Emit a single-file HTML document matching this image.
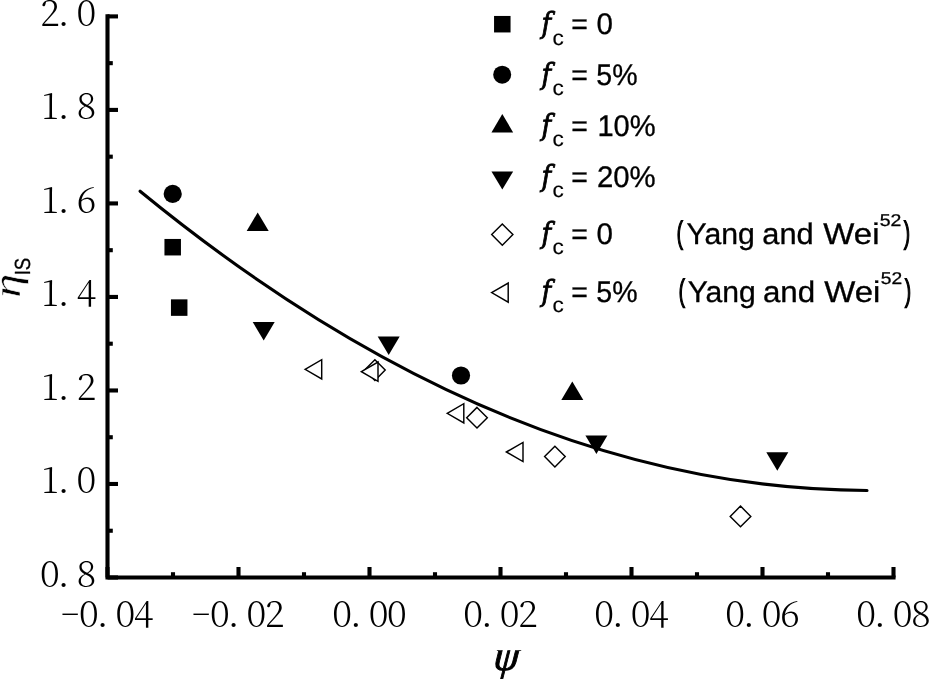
<!DOCTYPE html>
<html lang="en"><head><meta charset="utf-8"><title>Chart</title>
<style>html,body{margin:0;padding:0;background:#fff}svg{display:block}.tk{font-family:"Noto Serif CJK SC","Liberation Serif",serif;font-weight:300;font-size:36px;fill:#000}.lg{font-family:"Liberation Sans",sans-serif;font-size:28.5px;fill:#000;stroke:#000;stroke-width:0.3px}#legend text,#titles text{text-rendering:geometricPrecision}.bi{font-family:"Liberation Serif",serif;font-style:italic;fill:#000;stroke:#000;stroke-width:0.5px;stroke-linejoin:round}.it{font-family:"DejaVu Serif","Liberation Serif",serif;font-style:italic;fill:#000}</style></head><body>
<svg width="929" height="679" viewBox="0 0 929 679">
<rect width="929" height="679" fill="#fff"/>
<g id="axes" stroke="#000" stroke-width="4.1" fill="none" stroke-linecap="butt">
<path d="M107.5 14.349999999999998 V577.5 H895.55" stroke-linejoin="miter"/>
<path d="M107.5 577.50 H118"/>
<path d="M107.5 530.74 H112.8"/>
<path d="M107.5 483.98 H118"/>
<path d="M107.5 437.23 H112.8"/>
<path d="M107.5 390.47 H118"/>
<path d="M107.5 343.71 H112.8"/>
<path d="M107.5 296.95 H118"/>
<path d="M107.5 250.19 H112.8"/>
<path d="M107.5 203.43 H118"/>
<path d="M107.5 156.68 H112.8"/>
<path d="M107.5 109.92 H118"/>
<path d="M107.5 63.16 H112.8"/>
<path d="M107.5 16.40 H118"/>
<path d="M107.50 577.5 V567"/>
<path d="M173.00 577.5 V572.2"/>
<path d="M238.50 577.5 V567"/>
<path d="M304.00 577.5 V572.2"/>
<path d="M369.50 577.5 V567"/>
<path d="M435.00 577.5 V572.2"/>
<path d="M500.50 577.5 V567"/>
<path d="M566.00 577.5 V572.2"/>
<path d="M631.50 577.5 V567"/>
<path d="M697.00 577.5 V572.2"/>
<path d="M762.50 577.5 V567"/>
<path d="M828.00 577.5 V572.2"/>
<path d="M893.50 577.5 V567"/>
</g>
<g id="ticks">
<text class="tk" text-anchor="middle" x="49.90 63.60 86.30" y="587.00">0.8</text>
<text class="tk" text-anchor="middle" x="49.90 63.60 86.30" y="493.48">1.0</text>
<text class="tk" text-anchor="middle" x="49.90 63.60 86.30" y="399.97">1.2</text>
<text class="tk" text-anchor="middle" x="49.90 63.60 86.30" y="306.45">1.4</text>
<text class="tk" text-anchor="middle" x="49.90 63.60 86.30" y="212.93">1.6</text>
<text class="tk" text-anchor="middle" x="49.90 63.60 86.30" y="119.42">1.8</text>
<text class="tk" text-anchor="middle" x="49.90 63.60 86.30" y="25.90">2.0</text>
<text class="tk" text-anchor="middle" transform="translate(70.20 627.20) scale(0.86 1)">−</text>
<text class="tk" text-anchor="middle" x="89.00 102.70 125.40 143.60" y="627.20">0.04</text>
<text class="tk" text-anchor="middle" transform="translate(201.20 627.20) scale(0.86 1)">−</text>
<text class="tk" text-anchor="middle" x="220.00 233.70 256.40 274.60" y="627.20">0.02</text>
<text class="tk" text-anchor="middle" x="342.20 355.90 378.60 396.80" y="627.20">0.00</text>
<text class="tk" text-anchor="middle" x="473.20 486.90 509.60 527.80" y="627.20">0.02</text>
<text class="tk" text-anchor="middle" x="604.20 617.90 640.60 658.80" y="627.20">0.04</text>
<text class="tk" text-anchor="middle" x="735.20 748.90 771.60 789.80" y="627.20">0.06</text>
<text class="tk" text-anchor="middle" x="866.20 879.90 902.60 920.80" y="627.20">0.08</text>
</g>
<path id="curve" d="M140.1 191.25 Q503.55 489.12 867.0 490.46" stroke="#000" stroke-width="3.1" fill="none" stroke-linecap="round"/>
<g id="syms">
<rect x="164.45" y="238.95" width="16.5" height="16.5" fill="#000"/>
<rect x="170.95" y="299.35" width="16.5" height="16.5" fill="#000"/>
<circle cx="172.7" cy="193.9" r="9.1" fill="#000"/>
<circle cx="461" cy="375.5" r="9.1" fill="#000"/>
<path d="M257.7 212.4 L268.7 231.0 H246.7Z" fill="#000"/>
<path d="M572.3 381.5 L583.3 400.1 H561.3Z" fill="#000"/>
<path d="M252.7 322 H274.7 L263.7 340.6Z" fill="#000"/>
<path d="M377.7 336.5 H399.7 L388.7 355.1Z" fill="#000"/>
<path d="M585.4 435.4 H607.4 L596.4 454.0Z" fill="#000"/>
<path d="M766.3 452.2 H788.3 L777.3 470.8Z" fill="#000"/>
<path d="M374.9 359.8 L385.2 370.1 L374.9 380.40000000000003 L364.59999999999997 370.1Z" fill="#fff" stroke="#000" stroke-width="1.45" stroke-linejoin="miter"/>
<path d="M477 407.4 L487.3 417.7 L477 428.0 L466.7 417.7Z" fill="#fff" stroke="#000" stroke-width="1.45" stroke-linejoin="miter"/>
<path d="M554.9 446.3 L565.1999999999999 456.6 L554.9 466.90000000000003 L544.6 456.6Z" fill="#fff" stroke="#000" stroke-width="1.45" stroke-linejoin="miter"/>
<path d="M740.5 506.09999999999997 L750.8 516.4 L740.5 526.6999999999999 L730.2 516.4Z" fill="#fff" stroke="#000" stroke-width="1.45" stroke-linejoin="miter"/>
<path d="M305.09999999999997 369.3 L321.7 359.7 V378.90000000000003Z" fill="#fff" stroke="#000" stroke-width="1.45" stroke-linejoin="miter"/>
<path d="M361.4 371.7 L378.0 362.09999999999997 V381.3Z" fill="#fff" stroke="#000" stroke-width="1.45" stroke-linejoin="miter"/>
<path d="M447.2 413.3 L463.8 403.7 V422.90000000000003Z" fill="#fff" stroke="#000" stroke-width="1.45" stroke-linejoin="miter"/>
<path d="M506.4 452 L523.0 442.4 V461.6Z" fill="#fff" stroke="#000" stroke-width="1.45" stroke-linejoin="miter"/>
<rect x="494.05" y="15.95" width="16.5" height="16.5" fill="#000"/>
<circle cx="502.2" cy="74.7" r="9.0" fill="#000"/>
<path d="M502.3 113.9 L513.15 132.5 H491.45Z" fill="#000"/>
<path d="M491.45 171.4 H513.15 L502.3 189.6Z" fill="#000"/>
<path d="M502.3 224.0 L512.9 234.6 L502.3 245.2 L491.7 234.6Z" fill="#fff" stroke="#000" stroke-width="1.45" stroke-linejoin="miter"/>
<path d="M491.59999999999997 292.6 L508.2 283.0 V302.20000000000005Z" fill="#fff" stroke="#000" stroke-width="1.45" stroke-linejoin="miter"/>
</g>
<g id="legend">
<text id="f0" class="it" style="font-size:30px;stroke:#000;stroke-width:0.9px" transform="matrix(0.8738 0 0.0000 0.9728 541.42 33.00)">f</text>
<text id="c0" class="lg" style="font-size:24px;stroke:#000;stroke-width:0.2px" transform="matrix(0.9371 0 0.0000 0.8904 552.50 45.00)">c</text>
<text id="e0" class="lg" transform="matrix(0.9982 0 0.0000 1.0450 571.29 34.00)">=</text>
<text id="v0" class="lg" transform="matrix(1.0371 0 0.0000 1.0450 596.54 34.00)">0</text>
<text id="f1" class="it" style="font-size:30px;stroke:#000;stroke-width:0.9px" transform="matrix(0.8738 0 0.0000 0.9728 541.42 84.00)">f</text>
<text id="c1" class="lg" style="font-size:24px;stroke:#000;stroke-width:0.2px" transform="matrix(0.9371 0 0.0000 0.8904 552.50 95.00)">c</text>
<text id="e1" class="lg" transform="matrix(0.9982 0 0.0000 1.0450 571.29 85.00)">=</text>
<text id="v1" class="lg" transform="matrix(1.0013 0 0.0000 1.0450 596.30 85.00)">5%</text>
<text id="f2" class="it" style="font-size:30px;stroke:#000;stroke-width:0.9px" transform="matrix(0.8738 0 0.0000 0.9728 541.42 135.00)">f</text>
<text id="c2" class="lg" style="font-size:24px;stroke:#000;stroke-width:0.2px" transform="matrix(0.9371 0 0.0000 0.8904 552.50 146.00)">c</text>
<text id="e2" class="lg" transform="matrix(0.9982 0 0.0000 1.0450 571.29 136.00)">=</text>
<text id="v2" class="lg" transform="matrix(1.0218 0 0.0000 1.0450 597.42 136.00)">10%</text>
<text id="f3" class="it" style="font-size:30px;stroke:#000;stroke-width:0.9px" transform="matrix(0.8738 0 0.0000 0.9728 541.42 186.00)">f</text>
<text id="c3" class="lg" style="font-size:24px;stroke:#000;stroke-width:0.2px" transform="matrix(0.9371 0 0.0000 0.8904 552.50 197.00)">c</text>
<text id="e3" class="lg" transform="matrix(0.9982 0 0.0000 1.0450 571.29 187.00)">=</text>
<text id="v3" class="lg" transform="matrix(1.0307 0 0.0000 1.0450 596.93 187.00)">20%</text>
<text id="f4" class="it" style="font-size:30px;stroke:#000;stroke-width:0.9px" transform="matrix(0.8738 0 0.0000 0.9728 541.42 243.00)">f</text>
<text id="c4" class="lg" style="font-size:24px;stroke:#000;stroke-width:0.2px" transform="matrix(0.9371 0 0.0000 0.8904 552.50 254.00)">c</text>
<text id="e4" class="lg" transform="matrix(0.9982 0 0.0000 1.0450 571.29 244.00)">=</text>
<text id="v4" class="lg" transform="matrix(1.0371 0 0.0000 1.0450 596.54 244.00)">0</text>
<text id="p4" class="lg" style="stroke-width:1.5px" transform="matrix(0.6324 0 0.0000 1.0775 676.81 243.00)">(</text>
<text id="y4" class="lg" transform="matrix(1.0619 0 0.0000 1.0450 686.50 244.00)">Yang</text>
<text id="a4" class="lg" transform="matrix(1.0820 0 0.0000 1.0450 762.25 244.00)">and</text>
<text id="w4" class="lg" transform="matrix(1.1556 0 0.0000 1.0450 823.34 244.00)">Wei</text>
<text id="s4" class="lg" style="font-size:17px" transform="matrix(1.1444 0 0.0000 1.0000 879.79 226.00)">52</text>
<text id="q4" class="lg" style="stroke-width:1.5px" transform="matrix(0.6296 0 0.0000 1.0776 904.10 243.00)">)</text>
<text id="f5" class="it" style="font-size:30px;stroke:#000;stroke-width:0.9px" transform="matrix(0.8738 0 0.0000 0.9728 541.42 301.00)">f</text>
<text id="c5" class="lg" style="font-size:24px;stroke:#000;stroke-width:0.2px" transform="matrix(0.9371 0 0.0000 0.8904 552.50 312.00)">c</text>
<text id="e5" class="lg" transform="matrix(0.9982 0 0.0000 1.0450 571.29 302.00)">=</text>
<text id="v5" class="lg" transform="matrix(1.0013 0 0.0000 1.0450 596.30 302.00)">5%</text>
<text id="p5" class="lg" style="stroke-width:1.5px" transform="matrix(0.6333 0 0.0000 1.0775 678.67 301.00)">(</text>
<text id="y5" class="lg" transform="matrix(1.0572 0 0.0000 1.0450 687.70 302.00)">Yang</text>
<text id="a5" class="lg" transform="matrix(1.0996 0 0.0000 1.0450 762.88 302.00)">and</text>
<text id="w5" class="lg" transform="matrix(1.1548 0 0.0000 1.0450 824.29 302.00)">Wei</text>
<text id="s5" class="lg" style="font-size:17px" transform="matrix(1.1306 0 0.0000 1.0000 880.70 284.00)">52</text>
<text id="q5" class="lg" style="stroke-width:1.5px" transform="matrix(0.6337 0 0.0000 1.0776 904.89 301.00)">)</text>
</g>
<clipPath id="cpsi"><rect x="480" y="650.3" width="60" height="40"/><rect x="0" y="240" width="45" height="80"/></clipPath>
<g id="titles" clip-path="url(#cpsi)">
<text id="psi" class="bi" style="font-size:45px;stroke-width:0.95px" transform="matrix(0.9254 0 -0.0900 1.0000 492.67 670.00)">ψ</text>
<text id="eta" class="bi" style="font-size:45px;stroke:#fff;stroke-width:0.5px" transform="matrix(0 -1.0742 0.8641 0 19.79 297.84)">η</text>
<text id="IS" class="lg" style="font-size:23px" transform="matrix(0 -0.8107 0.9510 0 30.29 275.33)">IS</text>
</g>
</svg></body></html>
